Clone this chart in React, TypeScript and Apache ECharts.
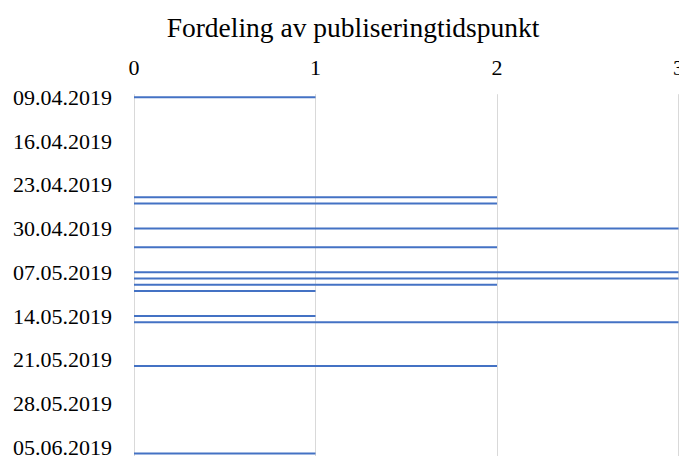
import React, { useEffect, useRef } from "react";
import * as echarts from "echarts";

// Publication days and number of items published on each day
const publishDates = [
  "09.04.2019", "25.04.2019", "26.04.2019", "30.04.2019", "03.05.2019",
  "07.05.2019", "08.05.2019", "09.05.2019", "10.05.2019", "14.05.2019",
  "15.05.2019", "22.05.2019", "05.06.2019",
];
const publishCounts = [1, 2, 2, 3, 2, 3, 3, 2, 1, 1, 3, 2, 1];

// Date axis range (one category per day) and its weekly tick labels
const axisStart = "09.04.2019";
const axisEnd = "05.06.2019";
const tickLabels = [
  "09.04.2019", "16.04.2019", "23.04.2019", "30.04.2019", "07.05.2019",
  "14.05.2019", "21.05.2019", "28.05.2019", "05.06.2019",
];
const valueTicks = [0, 1, 2, 3];

const FONT = '"Liberation Serif", "Times New Roman", serif';

function parseDate(s: string): Date {
  const [d, m, y] = s.split(".").map(Number);
  return new Date(Date.UTC(y, m - 1, d));
}
function fmt(d: Date): string {
  const p = (n: number) => String(n).padStart(2, "0");
  return `${p(d.getUTCDate())}.${p(d.getUTCMonth() + 1)}.${d.getUTCFullYear()}`;
}
function dayRange(a: string, b: string): string[] {
  const out: string[] = [];
  const end = parseDate(b).getTime();
  for (let t = parseDate(a).getTime(); t <= end; t += 86400000) out.push(fmt(new Date(t)));
  return out;
}

export default function App() {
  const ref = useRef<HTMLDivElement>(null);
  useEffect(() => {
    if (!ref.current) return;
    const chart = echarts.init(ref.current, null, { renderer: "svg" });
    const days = dayRange(axisStart, axisEnd);
    chart.setOption({
      animation: false,
      backgroundColor: "#ffffff",
      title: {
        text: "Fordeling av publiseringtidspunkt",
        left: 348,
        textAlign: "center",
        top: 8,
        textStyle: { fontFamily: FONT, fontSize: 27.5, fontWeight: "normal", color: "#000000" },
      },
      grid: {
        left: 134,
        top: 94.2,
        width: 544.5,
        height: 362.4,
        containLabel: false,
        outerBoundsMode: "none",
      },
      xAxis: {
        type: "value",
        position: "top",
        min: valueTicks[0],
        max: valueTicks[valueTicks.length - 1],
        interval: 1,
        axisLine: { show: false },
        axisTick: { show: false },
        axisLabel: { fontFamily: FONT, fontSize: 22, color: "#000000", margin: 16 },
        splitLine: { show: true, lineStyle: { color: "#d9d9d9", width: 1 } },
      },
      yAxis: {
        type: "category",
        inverse: true,
        data: days,
        axisLine: { show: false },
        axisTick: { show: false },
        splitLine: { show: false },
        axisLabel: {
          fontFamily: FONT,
          fontSize: 22,
          color: "#000000",
          margin: 22,
          interval: (index: number) => index % 7 === 0,
          formatter: (_v: string, index: number) => tickLabels[Math.round(index / 7)] ?? "",
        },
      },
      series: [
        {
          type: "bar",
          barWidth: 2,
          itemStyle: { color: "#4472c4" },
          data: publishDates.map((d, i) => [publishCounts[i], d]),
        },
      ],
    });
    return () => chart.dispose();
  }, []);
  return (
    <div
      ref={ref}
      style={{ position: "fixed", left: 0, top: 0, width: 679, height: 456, background: "#fff" }}
    />
  );
}
